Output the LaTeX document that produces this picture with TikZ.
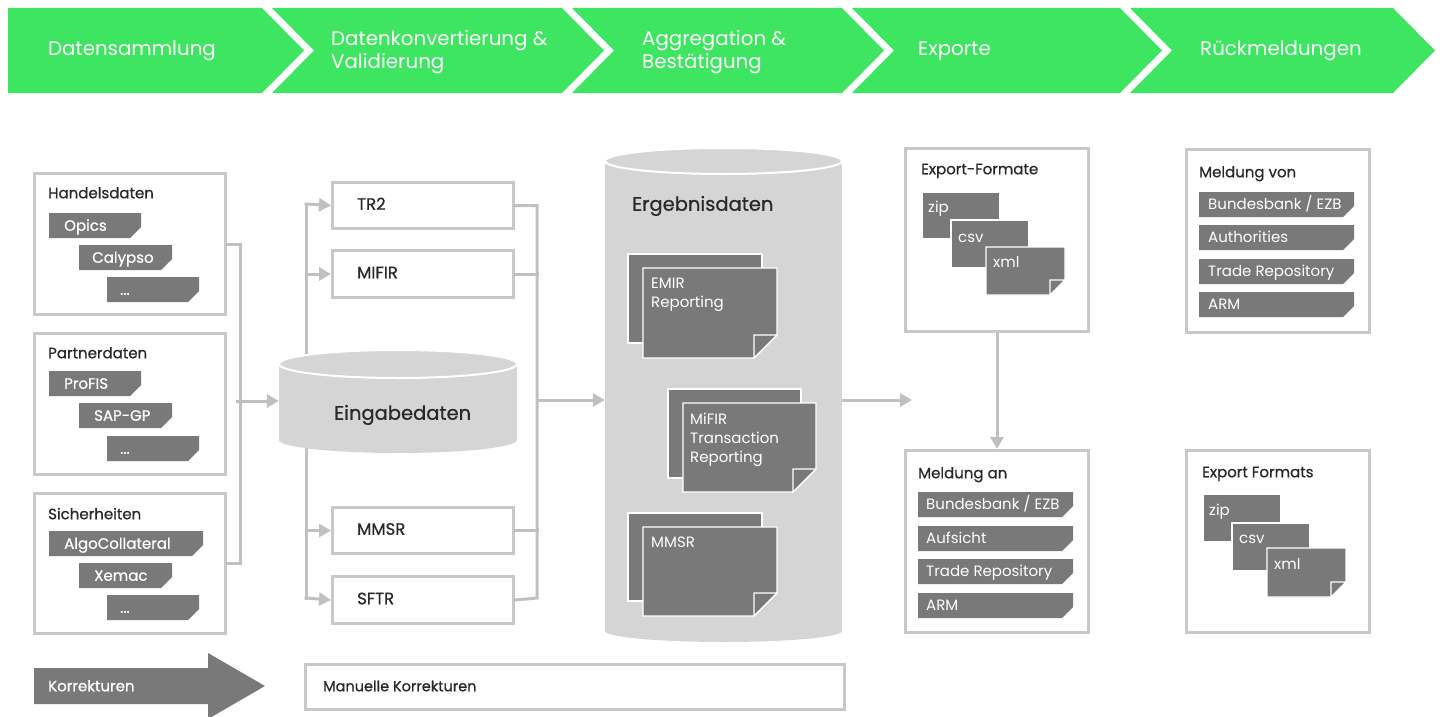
\documentclass[tikz,border=0pt]{standalone}
\usepackage{fontspec}
\setmainfont{Poppins}
\newfontfamily\medfont{Poppins}[FakeBold=0.7]
\usetikzlibrary{arrows.meta,positioning}
\definecolor{hdrgreen}{RGB}{62,229,96}
\definecolor{taggray}{RGB}{121,121,121}
\definecolor{framegray}{RGB}{200,200,200}
\definecolor{linegray}{RGB}{192,192,192}
\definecolor{cylgray}{RGB}{213,213,213}
\definecolor{textdark}{RGB}{40,40,40}
\newcommand{\tagbox}[6]{%
	\fill[taggray] (#2,#3) -- ++(#4,0) -- ++(0,14) -- ++(-11,11) -- ++(-#4+11,0) -- cycle;
	\node[tagtext] (#1) at (#2+#5,#3+12.5) {#6};}
\newcommand{\docsheet}[5]{%
	\filldraw[sheetfill] (#1,#2) -- ++(#3,0) -- ++(0,#4-#5) -- ++(-#5,#5) -- ++(-#3+#5,0) -- cycle;
	\filldraw[sheetfill] (#1+#3,#2+#4-#5) -- ++(-#5,0) -- ++(0,#5) -- cycle;}
\begin{document}
\begin{tikzpicture}[x=1pt,y=-1pt,
	framebox/.style={draw=framegray,line width=3pt,fill=white,anchor=north west,inner sep=0pt},
	conn/.style={draw=linegray,line width=3pt,line cap=rect},
	connarrow/.style={conn,-{Triangle[length=12pt,width=13pt]}},
	tagtext/.style={anchor=west,inner sep=0pt,text=white,font=\fontsize{15}{18}\selectfont,text height=10.5pt,text depth=0pt},
	boxtitle/.style={tagtext,text=textdark,font=\medfont\fontsize{15}{18}\selectfont},
	boxlabel/.style={boxtitle,font=\medfont\fontsize{16.5}{18}\selectfont,text height=11.5pt},
	sheetfill/.style={fill=taggray,draw=white,line width=1.2pt},
	sheettext/.style={anchor=north west,inner sep=0pt,text=white,align=left,font=\fontsize{15}{19}\selectfont},
	hdrtext/.style={anchor=west,inner sep=0pt,text=white,align=left,font=\fontsize{19.8}{23}\selectfont},
	cyltext/.style={anchor=west,inner sep=0pt,text=textdark,font=\medfont\fontsize{19.5}{23}\selectfont,text height=13.5pt,text depth=0pt}]

	\useasboundingbox (0,0) rectangle (1440,717);

	\fill[hdrgreen] (8,8) -- (262,8) -- (304,50.5) -- (262,93) -- (8,93) -- cycle;
	\fill[hdrgreen] (272,8) -- (562,8) -- (604,50.5) -- (562,93) -- (272,93) -- (314,50.5) -- cycle;
	\fill[hdrgreen] (572,8) -- (842,8) -- (884,50.5) -- (842,93) -- (572,93) -- (614,50.5) -- cycle;
	\fill[hdrgreen] (852,8) -- (1120,8) -- (1162,50.5) -- (1120,93) -- (852,93) -- (894,50.5) -- cycle;
	\fill[hdrgreen] (1130,8) -- (1393,8) -- (1435,50.5) -- (1393,93) -- (1130,93) -- (1172,50.5) -- cycle;

	\node[hdrtext] (H1) at (48,51) {Datensammlung};
	\node[hdrtext] (H2) at (331,52) {Datenkonvertierung \&\\Validierung};
	\node[hdrtext] (H3) at (642,52) {Aggregation \&\\Bestätigung};
	\node[hdrtext] (H4) at (918,51) {Exporte};
	\node[hdrtext] (H5) at (1200,51) {Rückmeldungen};

	\node[framebox,minimum width=191,minimum height=141] (HD) at (33,172) {};
	\node[framebox,minimum width=191,minimum height=141] (PD) at (33,332) {};
	\node[framebox,minimum width=191,minimum height=140] (SI) at (33,492) {};

	\node[framebox,minimum width=181,minimum height=46] (TR) at (331,181) {};
	\node[framebox,minimum width=181,minimum height=47] (MF) at (331,249) {};
	\node[framebox,minimum width=181,minimum height=46] (MM) at (331,506) {};
	\node[framebox,minimum width=181,minimum height=47] (SF) at (331,575) {};

	\node[framebox,minimum width=183,minimum height=183] (EXF) at (904,147) {};
	\node[framebox,minimum width=183,minimum height=182] (MAN) at (904,449) {};
	\node[framebox,minimum width=183,minimum height=183] (MVN) at (1185,148) {};
	\node[framebox,minimum width=183,minimum height=182] (EXE) at (1185,449) {};
	\node[framebox,minimum width=539,minimum height=45] (MKO) at (304,663) {};

	\node[inner sep=0pt,minimum width=238,minimum height=103] (EIN) at (398,401.5) {};
	\node[inner sep=0pt,minimum width=237,minimum height=494] (ERG) at (723.5,395) {};

	\coordinate (J1) at (237,401);
	\coordinate (B1) at (306,204);
	\coordinate (B2) at (306,598);
	\coordinate (C2) at (537,598);
	\coordinate (C3) at (537,400);
	\coordinate (X1) at (912,400);

	\draw[conn] (HD.east) -- ++(13,0) |- (SI.east);
	\draw[connarrow] (J1) -- (J1 -| EIN.west);
	\draw[conn] (B1) -- (B2);
	\draw[connarrow] (B1) -- (TR.west);
	\draw[connarrow] (MF.west -| B1) -- (MF.west);
	\draw[connarrow] (MM.west -| B1) -- (MM.west);
	\draw[connarrow] (B2) -- (SF.west);
	\draw[conn] (TR.east) -| (C2) -- (SF.east);
	\draw[conn] (MF.east) -- (MF.east -| C2);
	\draw[conn] (MM.east) -- (MM.east -| C2);
	\draw[connarrow] (C3) -- (C3 -| ERG.west);
	\draw[connarrow] (C3 -| ERG.east) -- (X1);
	\draw[connarrow] (EXF) -- (MAN);

	\fill[cylgray] (279,364) rectangle (517,440);
	\fill[cylgray] (398,440) ellipse[x radius=119,y radius=13];
	\filldraw[fill=cylgray,draw=white,line width=2pt] (398,364) ellipse[x radius=119,y radius=14];
	\node[cyltext] (EINt) at (334,413) {Eingabedaten};

	\fill[cylgray] (605,161) rectangle (842,631);
	\fill[cylgray] (723.5,631) ellipse[x radius=118.5,y radius=11];
	\filldraw[fill=cylgray,draw=white,line width=2pt] (723.5,161) ellipse[x radius=118.5,y radius=13];
	\node[cyltext] (ERGt) at (632,204) {Ergebnisdaten};

	\filldraw[sheetfill] (628,254) rectangle ++(134,89);
	\docsheet{643}{268}{134}{90}{23}
	\node[sheettext] (EM) at (651,278) {EMIR\\Reporting};
	\filldraw[sheetfill] (668,389) rectangle ++(133,89);
	\docsheet{683}{403}{133}{89}{23}
	\node[sheettext] (MI) at (690,413) {MiFIR\\Transaction\\Reporting};
	\filldraw[sheetfill] (628,513) rectangle ++(134,88);
	\docsheet{643}{527}{134}{89}{23}
	\node[sheettext] (MS) at (651,537) {MMSR};

	\begin{scope}[tagtext/.append style={font=\medfont\fontsize{15}{18}\selectfont}]
	\node[boxtitle] (HDt) at (48,193) {Handelsdaten};
	\tagbox{HD1}{49}{213}{92}{15}{Opics}
	\tagbox{HD2}{79}{245}{93}{13}{Calypso}
	\tagbox{HD3}{107}{277}{92}{13}{...}
	\node[boxtitle] (PDt) at (48,353) {Partnerdaten};
	\tagbox{PD1}{49}{371}{92}{15}{ProFIS}
	\tagbox{PD2}{79}{403}{93}{15}{SAP-GP}
	\tagbox{PD3}{107}{436}{92}{13}{...}
	\node[boxtitle] (SIt) at (48,514) {Sicherheiten};
	\tagbox{SI1}{49}{531}{154}{15}{AlgoCollateral}
	\tagbox{SI2}{79}{563}{93}{15}{Xemac}
	\tagbox{SI3}{107}{595}{92}{13}{...}
	\end{scope}

	\node[boxlabel] (TRt) at (357,204) {TR2};
	\node[boxlabel] (MFt) at (357,272.5) {MIFIR};
	\node[boxlabel] (MMt) at (357,529) {MMSR};
	\node[boxlabel] (SFt) at (357,598.5) {SFTR};

	\node[boxtitle] (EXFt) at (921,169) {Export-Formate};
	\filldraw[sheetfill] (922,192) rectangle ++(78,47);
	\filldraw[sheetfill] (951,220) rectangle ++(78,48);
	\docsheet{986}{247}{79}{48}{15}
	\node[tagtext] (EXF1) at (928,207) {zip};
	\node[tagtext] (EXF2) at (958,237) {csv};
	\node[tagtext] (EXF3) at (993,262) {xml};

	\node[boxtitle] (MANt) at (918,473) {Meldung an};
	\tagbox{MAN1}{918}{492}{155}{8}{Bundesbank / EZB}
	\tagbox{MAN2}{918}{526}{155}{8}{Aufsicht}
	\tagbox{MAN3}{918}{559}{155}{8}{Trade Repository}
	\tagbox{MAN4}{918}{593}{155}{8}{ARM}

	\node[boxtitle] (MVNt) at (1199,172) {Meldung von};
	\tagbox{MVN1}{1199}{192}{155}{9}{Bundesbank / EZB}
	\tagbox{MVN2}{1199}{225}{155}{9}{Authorities}
	\tagbox{MVN3}{1199}{259}{155}{9}{Trade Repository}
	\tagbox{MVN4}{1199}{292}{155}{9}{ARM}

	\node[boxtitle] (EXEt) at (1202,472) {Export Formats};
	\filldraw[sheetfill] (1203,494) rectangle ++(78,48);
	\filldraw[sheetfill] (1232,523) rectangle ++(78,48);
	\docsheet{1267}{548}{79}{49}{15}
	\node[tagtext] (EXE1) at (1209,510) {zip};
	\node[tagtext] (EXE2) at (1239,538) {csv};
	\node[tagtext] (EXE3) at (1274,564) {xml};

	\fill[taggray] (34,668) -- (208,668) -- (208,653) -- (265,686) -- (208,719) -- (208,704) -- (34,704) -- cycle;
	\node[tagtext,font=\medfont\fontsize{15}{18}\selectfont] (KOR) at (48,686) {Korrekturen};
	\node[boxtitle,font=\medfont\fontsize{14.5}{18}\selectfont] (MKOt) at (323,686) {Manuelle Korrekturen};

\end{tikzpicture}
\end{document}
